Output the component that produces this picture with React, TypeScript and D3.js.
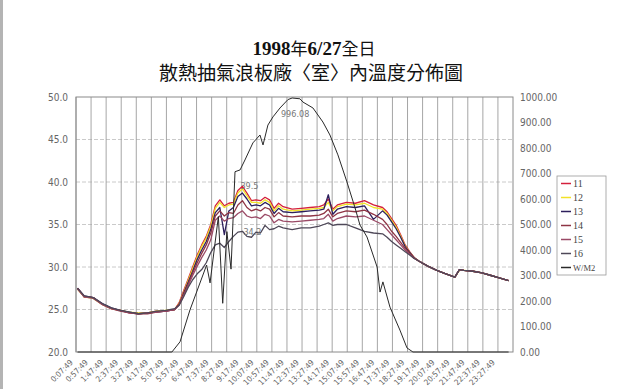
import React from 'react';
import * as d3 from 'd3';

// ---- tick labels ----
const xTickLabels = [
  '0:07:49', '0:57:49', '1:47:49', '2:37:49', '3:27:49', '4:17:49', '5:07:49', '5:57:49',
  '6:47:49', '7:37:49', '8:27:49', '9:17:49', '10:07:49', '10:57:49', '11:47:49', '12:37:49',
  '13:27:49', '14:17:49', '15:07:49', '15:57:49', '16:47:49', '17:37:49', '18:27:49', '19:17:49',
  '20:07:49', '20:57:49', '21:47:49', '22:37:49', '23:27:49',
];
const leftTicks = [20, 25, 30, 35, 40, 45, 50];
const rightTicks = [0, 100, 200, 300, 400, 500, 600, 700, 800, 900, 1000];

// ---- temperature series (time in hours of day) ----
const tempTimes = [
  0.13, 0.5, 1, 1.5, 2, 2.5, 3, 3.5, 4, 4.5, 5, 5.5,
  5.75, 6, 6.25, 6.5, 6.75, 7, 7.25, 7.5, 7.75, 8, 8.25, 8.5, 8.75, 9, 9.25, 9.5, 9.75, 10, 10.25, 10.5, 10.75, 11, 11.25, 11.5,
  12, 12.5, 13, 13.5, 13.75, 14, 14.25, 14.5, 15, 15.5, 16, 16.5,
  17, 17.25, 17.5, 17.75, 18, 18.25, 18.5, 18.75, 19,
  19.5, 20, 20.5, 21, 21.25, 21.5, 22, 22.5, 23, 23.5, 23.97,
];
const s11 = [
  27.5, 26.5, 26.4, 25.6, 25.1, 24.9, 24.6, 24.5, 24.6, 24.8, 24.8, 25.0,
  25.8, 27.2, 28.6, 30.0, 31.4, 32.6, 33.6, 35.0, 37.2, 37.9, 37.2, 37.5, 37.6, 39.0, 39.5, 38.7, 37.8, 37.9, 37.8, 38.2, 37.9, 36.9, 37.5, 37.1,
  36.8, 36.9, 37.0, 37.1, 37.3, 38.0, 36.8, 37.3, 37.6, 37.5, 37.8, 37.3,
  37.0, 36.5, 35.7, 34.9, 33.8, 32.6, 31.8, 31.1, 30.7,
  30.1, 29.6, 29.2, 28.8, 29.7, 29.6, 29.5, 29.3, 29.0, 28.7, 28.4,
];
const s12 = [
  27.4, 26.5, 26.3, 25.6, 25.1, 24.9, 24.7, 24.6, 24.6, 24.8, 24.9, 25.0,
  25.7, 27.0, 28.4, 29.8, 31.2, 32.4, 33.4, 34.8, 36.9, 37.6, 37.0, 37.3, 37.4, 38.7, 39.2, 38.4, 37.6, 37.6, 37.5, 37.9, 37.6, 36.6, 37.2, 36.8,
  36.6, 36.7, 36.8, 36.9, 37.0, 37.6, 36.6, 37.1, 37.4, 37.3, 37.5, 37.0,
  36.8, 36.3, 35.5, 34.7, 33.6, 32.5, 31.7, 31.1, 30.7,
  30.1, 29.6, 29.2, 28.8, 29.6, 29.6, 29.5, 29.3, 29.0, 28.7, 28.4,
];
const s13 = [
  27.5, 26.6, 26.4, 25.7, 25.2, 24.9, 24.7, 24.5, 24.6, 24.7, 24.8, 25.0,
  25.6, 26.9, 28.2, 29.5, 30.9, 32.0, 33.0, 34.4, 36.4, 37.0, 33.8, 36.6, 37.0, 38.3, 38.7, 38.0, 37.2, 37.3, 37.2, 37.6, 37.3, 36.3, 36.9, 36.5,
  36.4, 36.5, 36.6, 36.7, 36.8, 38.5, 36.2, 36.8, 37.1, 37.0, 37.2, 35.6,
  36.6, 36.1, 35.3, 34.5, 33.5, 32.4, 31.7, 31.1, 30.7,
  30.1, 29.6, 29.2, 28.8, 29.7, 29.6, 29.5, 29.3, 29.0, 28.7, 28.4,
];
const s14 = [
  27.5, 26.5, 26.4, 25.6, 25.1, 24.8, 24.6, 24.5, 24.5, 24.7, 24.8, 25.0,
  25.6, 26.8, 28.0, 29.3, 30.5, 31.6, 32.6, 34.0, 36.0, 36.6, 36.0, 36.4, 36.3, 37.3, 37.8, 37.0, 36.6, 36.8, 36.6, 37.0, 36.8, 35.9, 36.4, 36.0,
  35.9, 36.0, 36.0, 36.1, 36.3, 36.8, 35.9, 36.3, 36.6, 36.5, 36.7, 36.2,
  35.6, 35.0, 34.2, 33.6, 32.9, 32.2, 31.6, 31.1, 30.7,
  30.1, 29.6, 29.2, 28.8, 29.7, 29.6, 29.5, 29.3, 29.0, 28.7, 28.4,
];
const s15 = [
  27.4, 26.5, 26.3, 25.6, 25.1, 24.9, 24.6, 24.5, 24.6, 24.7, 24.8, 25.0,
  25.5, 26.6, 27.8, 29.0, 30.1, 31.1, 32.0, 33.2, 35.5, 36.0, 35.4, 35.7, 35.8, 36.3, 36.6, 36.0, 35.8, 35.9, 35.7, 36.2, 36.0, 35.2, 35.6, 35.4,
  35.3, 35.4, 35.5, 35.6, 35.7, 36.2, 35.4, 35.7, 36.0, 35.9, 36.0, 35.5,
  35.0, 34.4, 33.8, 33.2, 32.6, 32.0, 31.5, 31.0, 30.7,
  30.1, 29.6, 29.2, 28.8, 29.7, 29.6, 29.5, 29.3, 29.0, 28.7, 28.4,
];
const s16 = [
  27.5, 26.6, 26.4, 25.7, 25.2, 24.9, 24.7, 24.5, 24.6, 24.8, 24.9, 25.1,
  25.5, 26.5, 27.6, 28.5, 29.2, 29.7, 30.5, 31.7, 32.6, 32.8, 32.3, 33.0, 33.6, 34.1, 34.2, 33.6, 33.5, 34.1, 34.0, 34.9, 34.4, 34.5, 34.8, 34.6,
  34.4, 34.6, 34.6, 34.8, 35.0, 35.2, 34.9, 35.0, 35.0, 34.6, 34.2, 34.0,
  33.9, 33.5, 33.0, 32.6, 32.2, 31.8, 31.4, 31.0, 30.7,
  30.1, 29.6, 29.2, 28.8, 29.7, 29.6, 29.5, 29.3, 29.0, 28.7, 28.4,
];
const seriesNames = ['11', '12', '13', '14', '15', '16'];
const seriesColors = ['#d4203c', '#f2e228', '#2c1f5c', '#8e3444', '#9a4a66', '#4e4858'];
const tempSeries = [s11, s12, s13, s14, s15, s16];

// ---- solar radiation W/M2 ----
const wName = 'W/M2';
const wColor = '#2a2a2a';
const wTimes = [
  0.13, 5.35, 5.8, 6.35, 7.27, 7.46, 7.92, 8.16, 8.39, 8.62, 8.84, 9.12, 9.39, 9.83, 10.22, 10.39, 10.66,
  10.94, 11.33, 11.77, 12.0, 12.43, 12.6, 13.15, 13.7, 14.09, 14.53, 15.03, 15.48, 15.75, 16.14, 16.7,
  16.86, 17.02, 17.41, 17.96, 18.35, 18.68, 23.97,
];
const wValues = [
  0, 0, 40, 165, 341, 271, 531, 191, 472, 325, 707, 714, 753, 820, 851, 812, 890,
  922, 957, 990, 996.08, 993, 980, 957, 902, 851, 773, 667, 565, 498, 451, 333,
  235, 275, 176, 86, 16, 0, 0,
];

// data labels: [series index (6 = W/M2), time, decimals, dx, dy]
const annotations: [number, number, number, number, number][] = [
  [0, 9.25, 1, 7, 3],
  [5, 9.25, 1, 10, 4],
  [6, 12.0, 2, 3, 19],
];

const titleLine2 = '散熱抽氣浪板廠〈室〉內溫度分佈圖';

const parseClock = (s: string) => {
  const [h, m, sec] = s.split(':').map(Number);
  return h * 60 + m + sec / 60;
};

export default function App() {
  const W = 640, H = 389;
  const left = 76, right = 513, top = 97, bottom = 352;
  const first = parseClock(xTickLabels[0]);
  const x = d3.scaleLinear().domain([first - 5, first - 5 + 1450]).range([left, right]);
  const yL = d3.scaleLinear().domain([20, 50]).range([bottom, top]);
  const yR = d3.scaleLinear().domain([0, 1000]).range([bottom, top]);

  const tempLine = d3.line<number>().x((_, i) => x(tempTimes[i] * 60)).y((d) => yL(d));
  const wLine = d3.line<number>().x((_, i) => x(wTimes[i] * 60)).y((d) => yR(d));

  const axisFont = "'Liberation Sans Narrow', 'DejaVu Sans Condensed', 'Liberation Sans', sans-serif";

  return (
    <svg width={W} height={H} style={{ position: 'absolute', left: 0, top: 0, background: '#fff' }}>
      <rect x={0} y={0} width={W} height={H} fill="#fff" />
      <rect x={0} y={0} width={3} height={H} fill="#b4b4b4" />

      {/* title */}
      <text x={314} y={55} textAnchor="middle" fill="#111">
        <tspan fontFamily="'Liberation Serif', serif" fontWeight="bold" fontSize={19}>1998</tspan>
        <tspan fontFamily="'Noto Sans CJK TC', sans-serif" fontSize={17}>年</tspan>
        <tspan fontFamily="'Liberation Serif', serif" fontWeight="bold" fontSize={19}>6/27</tspan>
        <tspan fontFamily="'Noto Sans CJK TC', sans-serif" fontSize={17}>全日</tspan>
      </text>
      <text x={311} y={80} textAnchor="middle" fontFamily="'Noto Sans CJK TC', sans-serif" fontSize={19} fill="#111">
        {titleLine2}
      </text>

      {/* horizontal gridlines */}
      {leftTicks.slice(1, -1).map((t) => (
        <line key={'h' + t} x1={left} x2={right} y1={yL(t)} y2={yL(t)} stroke="#bdbdbd" strokeWidth={0.8} strokeDasharray="4,2" />
      ))}
      {/* vertical gridlines */}
      {xTickLabels.map((lab) => {
        const gx = x(parseClock(lab) - 5);
        return <line key={'v' + lab} x1={gx} x2={gx} y1={top} y2={bottom} stroke="#9c9c9c" strokeWidth={0.9} />;
      })}
      {/* frame */}
      <rect x={left} y={top} width={right - left} height={bottom - top} fill="none" stroke="#8a8a8a" strokeWidth={1} />

      {/* left ticks */}
      {leftTicks.map((t) => (
        <text key={'l' + t} x={68} y={yL(t) + 3.5} textAnchor="end" fontFamily={axisFont} fontSize={10} fill="#666">
          {t.toFixed(1)}
        </text>
      ))}
      {/* right ticks */}
      {rightTicks.map((t) => (
        <text key={'r' + t} x={520} y={yR(t) + 3.5} textAnchor="start" fontFamily={axisFont} fontSize={10} fill="#666">
          {t.toFixed(2)}
        </text>
      ))}
      {/* x tick labels */}
      {xTickLabels.map((lab) => {
        const cx = x(parseClock(lab));
        return (
          <text key={'x' + lab} transform={`translate(${cx - 4},${bottom + 11}) rotate(-45)`} textAnchor="end"
            fontFamily={axisFont} fontSize={8} fill="#666">
            {lab}
          </text>
        );
      })}

      {/* temperature series */}
      {tempSeries.map((s, i) => (
        <path key={'s' + i} d={tempLine(s) || ''} fill="none" stroke={seriesColors[i]} strokeWidth={1.3} strokeLinejoin="round" />
      ))}
      {/* W/M2 */}
      <path d={wLine(wValues) || ''} fill="none" stroke={wColor} strokeWidth={1} strokeLinejoin="round" />

      {/* data labels */}
      {annotations.map(([si, t, dec, dx, dy], k) => {
        if (si === 6) {
          const idx = wTimes.indexOf(t);
          const v = wValues[idx];
          return (
            <text key={'a' + k} x={x(t * 60) + dx} y={yR(v) + dy} textAnchor="middle" fontFamily={axisFont} fontSize={9} fill="#777">
              {v.toFixed(dec)}
            </text>
          );
        }
        const idx = tempTimes.indexOf(t);
        const v = tempSeries[si][idx];
        return (
          <text key={'a' + k} x={x(t * 60) + dx} y={yL(v) + dy} textAnchor="middle" fontFamily={axisFont} fontSize={9} fill="#777">
            {v.toFixed(dec)}
          </text>
        );
      })}

      {/* legend */}
      <rect x={557} y={176} width={49} height={99} fill="#fff" stroke="#9a9a9a" strokeWidth={0.8} />
      {[...seriesNames, wName].map((n, i) => {
        const ly = 183.5 + i * 14;
        const c = i < 6 ? seriesColors[i] : wColor;
        return (
          <g key={'lg' + n}>
            <line x1={561} x2={571} y1={ly} y2={ly} stroke={c} strokeWidth={1.5} />
            <text x={573} y={ly + 3.5} fontFamily="'Liberation Serif', serif" fontSize={n === wName ? 8.5 : 10} fill="#444">
              {n}
            </text>
          </g>
        );
      })}
    </svg>
  );
}
